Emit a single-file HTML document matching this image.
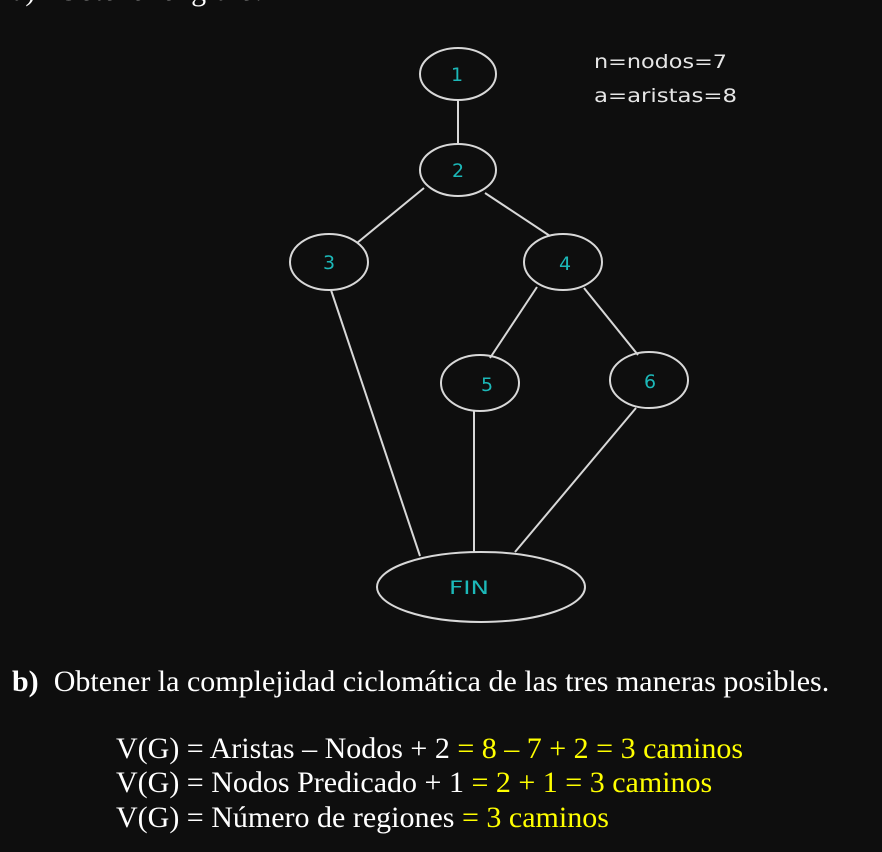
<!DOCTYPE html>
<html><head><meta charset="utf-8"><style>
body{margin:0;width:882px;height:852px;background:#0e0e0e;overflow:hidden;position:relative}
.s{position:absolute;font-family:"Liberation Serif",serif;color:#fff;font-size:30px;line-height:34px;white-space:nowrap}
.y{color:#ffff00}
</style></head><body>
<div class="s" style="left:12px;top:-26px">a)&nbsp;&nbsp;&nbsp;Obtener el grafo:</div>
<svg width="882" height="640" style="position:absolute;left:0;top:0" font-family="DejaVu Sans, sans-serif">
<g stroke="#d8d8d8" stroke-width="2" fill="none">
<line x1="458" y1="100" x2="458" y2="144"/>
<line x1="424" y1="188" x2="357" y2="243"/>
<line x1="485" y1="193" x2="550" y2="236"/>
<line x1="331" y1="290" x2="420" y2="556"/>
<line x1="537" y1="287" x2="490" y2="358"/>
<line x1="584" y1="288" x2="638" y2="355"/>
<line x1="474" y1="410" x2="474" y2="552"/>
<line x1="636" y1="408" x2="515" y2="552"/>
<ellipse cx="458" cy="74" rx="38" ry="26"/>
<ellipse cx="458" cy="170" rx="38" ry="26"/>
<ellipse cx="329" cy="262" rx="39" ry="28"/>
<ellipse cx="563" cy="262" rx="39" ry="28"/>
<ellipse cx="480" cy="383" rx="39" ry="28"/>
<ellipse cx="649" cy="380" rx="39" ry="28"/>
<ellipse cx="481" cy="587" rx="104" ry="35"/>
</g>
<g fill="#1cb8b8" font-size="19" text-anchor="middle">
<text x="457" y="81">1</text>
<text x="458" y="177">2</text>
<text x="329" y="269">3</text>
<text x="565" y="270">4</text>
<text x="487" y="391">5</text>
<text x="650" y="388">6</text>
<text x="469" y="594" textLength="40" lengthAdjust="spacingAndGlyphs">FIN</text>
</g>
<g fill="#e6e6e6" font-size="19">
<text x="594" y="68" textLength="133" lengthAdjust="spacingAndGlyphs">n=nodos=7</text>
<text x="594" y="102" textLength="143" lengthAdjust="spacingAndGlyphs">a=aristas=8</text>
</g>
</svg>
<div class="s" style="left:12px;top:665px"><b>b)</b>&nbsp;&nbsp;Obtener la complejidad ciclomática de las tres maneras posibles.</div>
<div class="s" style="left:116px;top:732px">V(G) = Aristas – Nodos + 2 <span class="y">= 8 – 7 + 2 = 3 caminos</span></div>
<div class="s" style="left:116px;top:766px">V(G) = Nodos Predicado + 1 <span class="y">= 2 + 1 = 3 caminos</span></div>
<div class="s" style="left:116px;top:801px">V(G) = Número de regiones <span class="y">= 3 caminos</span></div>
</body></html>
